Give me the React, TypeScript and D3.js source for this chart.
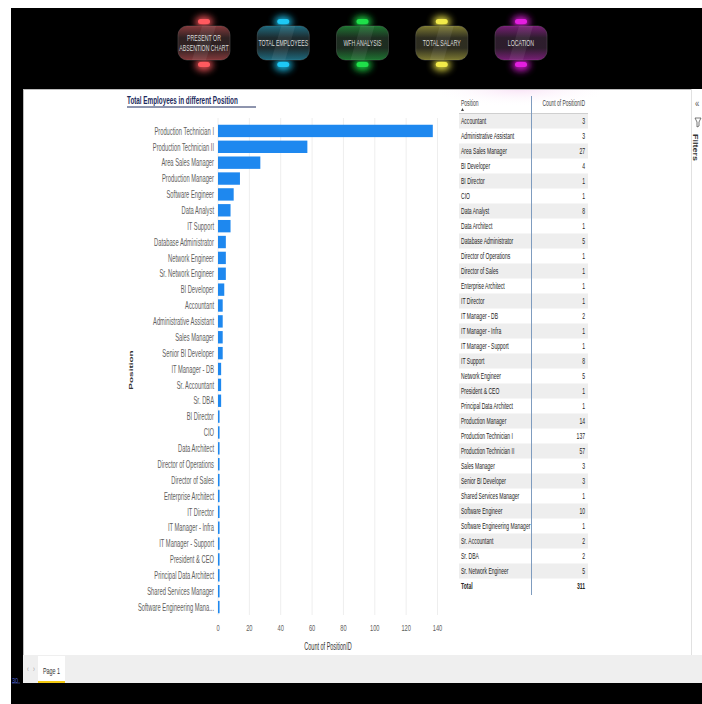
import React from "react";
import * as d3 from "d3";

// ---------- data ----------
const positions = [
  "Production Technician I",
  "Production Technician II",
  "Area Sales Manager",
  "Production Manager",
  "Software Engineer",
  "Data Analyst",
  "IT Support",
  "Database Administrator",
  "Network Engineer",
  "Sr. Network Engineer",
  "BI Developer",
  "Accountant",
  "Administrative Assistant",
  "Sales Manager",
  "Senior BI Developer",
  "IT Manager - DB",
  "Sr. Accountant",
  "Sr. DBA",
  "BI Director",
  "CIO",
  "Data Architect",
  "Director of Operations",
  "Director of Sales",
  "Enterprise Architect",
  "IT Director",
  "IT Manager - Infra",
  "IT Manager - Support",
  "President & CEO",
  "Principal Data Architect",
  "Shared Services Manager",
  "Software Engineering Manager",
];
const counts = [137, 57, 27, 14, 10, 8, 8, 5, 5, 5, 4, 3, 3, 3, 3, 2, 2, 2, 1, 1, 1, 1, 1, 1, 1, 1, 1, 1, 1, 1, 1];
const xTicks = [0, 20, 40, 60, 80, 100, 120, 140];
const buttonLabels = [["PRESENT OR", "ABSENTION CHART"], ["TOTAL EMPLOYEES"], ["WFH ANALYSIS"], ["TOTAL SALARY"], ["LOCATION"]];
const buttonColors = ["#ff5a5f", "#1ec8f5", "#1fe04a", "#f2ea4a", "#e41fe0"];
const chartTitle = "Total Employees in different Position";
const xTitle = "Count of PositionID";
const yTitle = "Position";
const tableHeaders = ["Position", "Count of PositionID"];

const FONT = "'Liberation Sans', Arial, sans-serif";

type TP = {
  x: number; y: number; sx?: number; size?: number; anchor?: string; fill?: string;
  weight?: string | number; children: React.ReactNode; base?: string;
};
const T = ({ x, y, sx = 0.56, size = 10, anchor = "start", fill = "#333", weight = "normal", children, base = "central" }: TP) => (
  <text
    transform={`translate(${x},${y}) scale(${sx},1)`}
    fontFamily={FONT}
    fontSize={size}
    textAnchor={anchor as any}
    dominantBaseline={base as any}
    fill={fill}
    fontWeight={weight as any}
  >
    {children}
  </text>
);

const trunc = (s: string) => (s.length > 26 ? s.slice(0, 25) + "..." : s);

export default function App() {
  const x = d3.scaleLinear().domain([0, 140]).range([218, 437.5]);
  const y = d3.scaleBand<string>().domain(positions).range([123, 615]).paddingInner(0.22).paddingOuter(0.11);

  const table = positions
    .map((p, i) => ({ p, c: counts[i] }))
    .sort((a, b) => d3.ascending(a.p, b.p));
  const total = d3.sum(counts);
  const rowY = (i: number) => 121 + 15 * i;

  const btnX = d3.scaleLinear().domain([0, 4]).range([204, 521]);

  return (
    <div style={{ position: "fixed", left: 0, top: 0, width: 702, height: 704, background: "#fff" }}>
      <svg width={702} height={704} style={{ display: "block" }}>
        <defs>
          <filter id="glow" x="-150%" y="-150%" width="400%" height="400%">
            <feGaussianBlur stdDeviation="3.5" />
          </filter>
          {buttonColors.map((c, i) => (
            <linearGradient key={i} id={`tint${i}`} x1="0" y1="0" x2="0" y2="1">
              <stop offset="0" stopColor={c} stopOpacity={0.45} />
              <stop offset="0.35" stopColor={c} stopOpacity={0.08} />
              <stop offset="0.65" stopColor={c} stopOpacity={0.08} />
              <stop offset="1" stopColor={c} stopOpacity={0.45} />
            </linearGradient>
          ))}
          <radialGradient id="pinkglow" cx="0.5" cy="0" r="0.6">
            <stop offset="0" stopColor="#f3c9ee" stopOpacity={0.5} />
            <stop offset="1" stopColor="#ffffff" stopOpacity={0} />
          </radialGradient>
        </defs>

        {/* outer frame */}
        <rect x={11} y={8} width={691} height={696} fill="#000" />
        {/* report canvas */}
        <rect x={23} y={89} width={668} height={566} fill="#fff" />
        <rect x={440} y={89} width={160} height={30} fill="url(#pinkglow)" />
        <line x1={23.5} y1={89} x2={23.5} y2={655} stroke="#bdbdbd" />
        <line x1={23} y1={89.5} x2={691} y2={89.5} stroke="#bdbdbd" />

        {/* filters pane */}
        <rect x={691} y={89} width={11} height={566} fill="#fff" />
        <line x1={691.5} y1={89} x2={691.5} y2={655} stroke="#e1e1e1" />
        <T x={695} y={103} size={11} sx={0.7} fill="#555">«</T>
        <path d="M695,118 L701,118 L699,122 L699,126 L697,127 L697,122 Z" fill="none" stroke="#555" strokeWidth={0.8} />
        <text
          transform="translate(695,134) rotate(90) scale(1,0.7)"
          fontFamily={FONT}
          fontSize={9}
          fontWeight="bold"
          fill="#333"
          dominantBaseline="central"
        >
          Filters
        </text>

        {/* page tabs */}
        <rect x={23} y={655} width={679} height={28} fill="#efefef" />
        <T x={27} y={669} size={9} sx={0.6} fill="#999">‹</T>
        <T x={33} y={669} size={9} sx={0.6} fill="#999">›</T>
        <rect x={38} y={656} width={27} height={27} fill="#fff" />
        <rect x={38} y={681} width={27} height={2} fill="#f2c811" />
        <T x={51.5} y={671} size={9} sx={0.6} anchor="middle" fill="#333">Page 1</T>
        <T x={12} y={680} size={7} sx={0.8} fill="#4a5fd0">30</T>
        <line x1={12} y1={683} x2={20} y2={683} stroke="#4a5fd0" strokeWidth={0.6} />

        {/* nav buttons */}
        {buttonLabels.map((lines, i) => {
          const c = buttonColors[i];
          return (
            <g key={i} transform={`translate(${btnX(i)},43)`}>
              <ellipse cx={0} cy={-21} rx={9} ry={6} fill={c} filter="url(#glow)" opacity={0.9} />
              <ellipse cx={0} cy={22} rx={9} ry={6} fill={c} filter="url(#glow)" opacity={0.9} />
              <rect x={-26} y={-17} width={52} height={34} rx={9} fill="#1d1d1d" stroke="#3c3c3c" strokeWidth={0.8} />
              <rect x={-26} y={-17} width={52} height={34} rx={9} fill={`url(#tint${i})`} />
              <path d="M-2,-17 L12,-17 L2,17 L-12,17 Z" fill="#fff" opacity={0.07} />
              <rect x={-6} y={-24} width={12} height={5} rx={2.5} fill={c} />
              <rect x={-6} y={19} width={12} height={5} rx={2.5} fill={c} />
              {lines.map((l, j) => (
                <T
                  key={j}
                  x={0}
                  y={lines.length === 1 ? 0 : j === 0 ? -5 : 5}
                  size={9}
                  sx={0.58}
                  anchor="middle"
                  fill="#d9d9d9"
                >
                  {l}
                </T>
              ))}
            </g>
          );
        })}

        {/* ---------- bar chart ---------- */}
        <T x={127} y={100} size={11.5} sx={0.55} weight="bold" fill="#1d2b5c">{chartTitle}</T>
        <line x1={127} y1={107} x2={256} y2={107} stroke="#1d2b5c" strokeWidth={1} />

        {xTicks.map((t) => (
          <line key={t} x1={x(t)} x2={x(t)} y1={118} y2={615} stroke="#eeeeee" strokeWidth={1} />
        ))}
        {positions.map((p, i) => (
          <rect key={p} x={x(0)} y={y(p)!} width={x(counts[i]) - x(0)} height={y.bandwidth()} fill="#1e88ef" />
        ))}
        {positions.map((p) => (
          <T key={p} x={214} y={y(p)! + y.bandwidth() / 2} size={10.5} sx={0.55} anchor="end" fill="#605e5c">
            {trunc(p)}
          </T>
        ))}
        {xTicks.map((t) => (
          <T key={t} x={x(t)} y={628} size={9.5} sx={0.6} anchor="middle" fill="#605e5c">{t}</T>
        ))}
        <T x={328} y={647} size={10} sx={0.55} anchor="middle" fill="#333">{xTitle}</T>
        <text
          transform="translate(131,370) rotate(-90) scale(1,0.6)"
          fontFamily={FONT}
          fontSize={10}
          fontWeight="bold"
          fill="#333"
          textAnchor="middle"
          dominantBaseline="central"
        >
          {yTitle}
        </text>

        {/* ---------- table ---------- */}
        {table.map((r, i) =>
          i % 2 === 0 ? (
            <rect key={r.p} x={459} y={rowY(i) - 7.5} width={129} height={15} fill="#eeeeee" />
          ) : null
        )}
        <T x={461} y={103} size={9} sx={0.55} fill="#444">{tableHeaders[0]}</T>
        <path d="M461,111 L464,111 L462.5,108 Z" fill="#444" />
        <T x={585} y={103} size={9} sx={0.55} anchor="end" fill="#444">{tableHeaders[1]}</T>
        <line x1={459} y1={113.5} x2={588} y2={113.5} stroke="#cfcfcf" />
        <line x1={531.5} y1={96} x2={531.5} y2={595} stroke="#7f9cbf" strokeWidth={1} />
        {table.map((r, i) => (
          <g key={r.p}>
            <T x={461} y={rowY(i)} size={9} sx={0.56} fill="#252423">{r.p}</T>
            <T x={585} y={rowY(i)} size={9} sx={0.56} anchor="end" fill="#252423">{r.c}</T>
          </g>
        ))}
        <T x={461} y={rowY(table.length)} size={9} sx={0.56} weight="bold" fill="#252423">Total</T>
        <T x={585} y={rowY(table.length)} size={9} sx={0.56} weight="bold" anchor="end" fill="#252423">{total}</T>
      </svg>
    </div>
  );
}
